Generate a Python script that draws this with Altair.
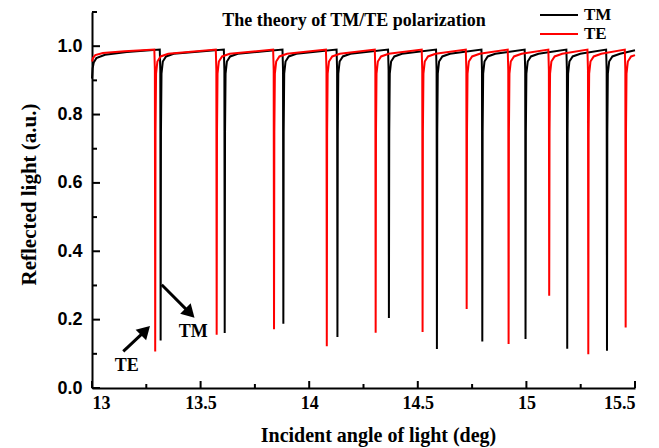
import altair as alt
import pandas as pd

# ---- data ----
te_x = [13.000, 13.005, 13.015, 13.050, 13.150,
        13.287, 13.2895, 13.291, 13.2925, 13.295, 13.301, 13.316, 13.351,
        13.570, 13.5725, 13.574, 13.5755, 13.578, 13.584, 13.599, 13.634,
        13.834, 13.8365, 13.838, 13.8395, 13.842, 13.848, 13.863, 13.898,
        14.077, 14.0795, 14.081, 14.0825, 14.085, 14.091, 14.106, 14.141,
        14.302, 14.3045, 14.306, 14.3075, 14.310, 14.316, 14.331, 14.366,
        14.518, 14.5205, 14.522, 14.5235, 14.526, 14.532, 14.547, 14.582,
        14.721, 14.7235, 14.725, 14.7265, 14.729, 14.735, 14.750, 14.785,
        14.914, 14.9165, 14.918, 14.9195, 14.922, 14.928, 14.943, 14.978,
        15.101, 15.1035, 15.105, 15.1065, 15.109, 15.115, 15.130, 15.165,
        15.281, 15.2835, 15.285, 15.2865, 15.289, 15.295, 15.310, 15.345,
        15.453, 15.4555, 15.457, 15.4585, 15.461, 15.467, 15.482, 15.500]
te_y = [0.955, 0.966, 0.974, 0.980, 0.985,
        0.990, 0.930, 0.107, 0.750, 0.920, 0.955, 0.970, 0.978,
        0.990, 0.930, 0.156, 0.750, 0.920, 0.955, 0.970, 0.978,
        0.990, 0.930, 0.172, 0.750, 0.920, 0.955, 0.970, 0.978,
        0.990, 0.930, 0.122, 0.750, 0.920, 0.955, 0.970, 0.978,
        0.990, 0.930, 0.162, 0.750, 0.920, 0.955, 0.970, 0.978,
        0.990, 0.930, 0.164, 0.750, 0.920, 0.955, 0.970, 0.978,
        0.990, 0.930, 0.231, 0.750, 0.920, 0.955, 0.970, 0.978,
        0.990, 0.930, 0.129, 0.750, 0.920, 0.955, 0.970, 0.978,
        0.990, 0.930, 0.270, 0.750, 0.920, 0.955, 0.970, 0.978,
        0.990, 0.930, 0.099, 0.750, 0.920, 0.955, 0.970, 0.978,
        0.990, 0.930, 0.177, 0.750, 0.920, 0.955, 0.970, 0.974]

tm_x = [13.000, 13.003, 13.008, 13.020, 13.060, 13.160,
        13.312, 13.3145, 13.316, 13.3175, 13.320, 13.326, 13.341, 13.376,
        13.607, 13.6095, 13.611, 13.6125, 13.615, 13.621, 13.636, 13.671,
        13.877, 13.8795, 13.881, 13.8825, 13.885, 13.891, 13.906, 13.941,
        14.126, 14.1285, 14.130, 14.1315, 14.134, 14.140, 14.155, 14.190,
        14.363, 14.3655, 14.367, 14.3685, 14.371, 14.377, 14.392, 14.427,
        14.584, 14.5865, 14.588, 14.5895, 14.592, 14.598, 14.613, 14.648,
        14.793, 14.7955, 14.797, 14.7985, 14.801, 14.807, 14.822, 14.857,
        14.992, 14.9945, 14.996, 14.9975, 15.000, 15.006, 15.021, 15.056,
        15.184, 15.1865, 15.188, 15.1895, 15.192, 15.198, 15.213, 15.248,
        15.367, 15.3695, 15.371, 15.3725, 15.375, 15.381, 15.396, 15.431,
        15.500]
tm_y = [0.905, 0.935, 0.952, 0.965, 0.975, 0.983,
        0.990, 0.930, 0.139, 0.750, 0.920, 0.955, 0.970, 0.978,
        0.990, 0.930, 0.161, 0.750, 0.920, 0.955, 0.970, 0.978,
        0.990, 0.930, 0.188, 0.750, 0.920, 0.955, 0.970, 0.978,
        0.990, 0.930, 0.149, 0.750, 0.920, 0.955, 0.970, 0.978,
        0.990, 0.930, 0.205, 0.750, 0.920, 0.955, 0.970, 0.978,
        0.990, 0.930, 0.114, 0.750, 0.920, 0.955, 0.970, 0.978,
        0.990, 0.930, 0.136, 0.750, 0.920, 0.955, 0.970, 0.978,
        0.990, 0.930, 0.143, 0.750, 0.920, 0.955, 0.970, 0.978,
        0.990, 0.930, 0.115, 0.750, 0.920, 0.955, 0.970, 0.978,
        0.990, 0.930, 0.109, 0.750, 0.920, 0.955, 0.970, 0.978,
        0.988]

x_major = [13.0, 13.5, 14.0, 14.5, 15.0, 15.5]
x_minor = [13.25, 13.75, 14.25, 14.75, 15.25]
y_major = [0.0, 0.2, 0.4, 0.6, 0.8, 1.0]
y_minor = [0.1, 0.3, 0.5, 0.7, 0.9, 1.1]

# annotation arrows (start -> head) and labels, in data units
arrow_x = [13.321, 13.144]
arrow_y = [0.302, 0.107]
arrow_x2 = [13.451, 13.246]
arrow_y2 = [0.219, 0.168]
arrow_angle = [135, 45]
ann_text = ["TM", "TE"]
ann_x = [13.466, 13.160]
ann_y = [0.165, 0.063]

W, H = 543, 376
SERIF = "Liberation Serif"
SANS = "Liberation Sans"

xs = alt.Scale(domain=[13, 15.5], nice=False, zero=False)
ys = alt.Scale(domain=[0, 1.1], nice=False, zero=False)

x_axis = alt.Axis(values=x_major, ticks=False, grid=False, domainWidth=2, domainColor="black",
                  labelFont=SERIF, labelFontWeight="bold", labelFontSize=18, labelColor="black",
                  labelPadding=6, labelExpr="datum.value + ''",
                  title="Incident angle of light (deg)", titleFont=SERIF, titleFontWeight="bold",
                  titleFontSize=20, titleColor="black", titleX=286, titleY=53,
                  titleBaseline="alphabetic")
y_axis = alt.Axis(values=y_major, ticks=False, grid=False, domainWidth=2, domainColor="black",
                  labelFont=SANS, labelFontWeight="bold", labelFontSize=18, labelColor="black",
                  labelPadding=10, format=".1f",
                  title="Reflected light (a.u.)", titleFont=SERIF, titleFontWeight="bold",
                  titleFontSize=21, titleColor="black", titleX=-57, titleY=182,
                  titleBaseline="alphabetic")

tm_df = pd.DataFrame({"x": tm_x, "y": tm_y})
te_df = pd.DataFrame({"x": te_x, "y": te_y})

tm_line = alt.Chart(tm_df).mark_line(color="black", strokeWidth=2).encode(
    x=alt.X("x:Q", scale=xs, axis=x_axis), y=alt.Y("y:Q", scale=ys, axis=y_axis))
te_line = alt.Chart(te_df).mark_line(color="#ff0000", strokeWidth=2).encode(
    x=alt.X("x:Q", scale=xs), y=alt.Y("y:Q", scale=ys))

# inward ticks
xmaj = alt.Chart(pd.DataFrame({"x": x_major})).mark_rule(color="black", strokeWidth=2).encode(
    x=alt.X("x:Q", scale=xs), y=alt.value(H), y2=alt.value(H - 7))
xmin = alt.Chart(pd.DataFrame({"x": x_minor})).mark_rule(color="black", strokeWidth=2).encode(
    x=alt.X("x:Q", scale=xs), y=alt.value(H), y2=alt.value(H - 4))
ymaj = alt.Chart(pd.DataFrame({"y": y_major})).mark_rule(color="black", strokeWidth=2).encode(
    y=alt.Y("y:Q", scale=ys), x=alt.value(0), x2=alt.value(8))
ymin = alt.Chart(pd.DataFrame({"y": y_minor})).mark_rule(color="black", strokeWidth=2).encode(
    y=alt.Y("y:Q", scale=ys), x=alt.value(0), x2=alt.value(5))

arr_df = pd.DataFrame({"x": arrow_x, "y": arrow_y, "x2": arrow_x2, "y2": arrow_y2, "a": arrow_angle})
arr_line = alt.Chart(arr_df).mark_rule(color="black", strokeWidth=3).encode(
    x=alt.X("x:Q", scale=xs), y=alt.Y("y:Q", scale=ys), x2="x2:Q", y2="y2:Q")
arr_head = alt.Chart(arr_df).mark_point(shape="triangle-up", filled=True, color="black",
                                        size=220, opacity=1).encode(
    x=alt.X("x2:Q", scale=xs), y=alt.Y("y2:Q", scale=ys), angle=alt.Angle("a:Q", scale=None))
ann = alt.Chart(pd.DataFrame({"x": ann_x, "y": ann_y, "t": ann_text})).mark_text(
    font=SERIF, fontWeight="bold", fontSize=18, color="black").encode(
    x=alt.X("x:Q", scale=xs), y=alt.Y("y:Q", scale=ys), text="t:N")

title = alt.Chart(pd.DataFrame({"t": ["The theory of TM/TE polarization"]})).mark_text(
    font=SERIF, fontWeight="bold", fontSize=18, color="black", baseline="middle").encode(
    x=alt.value(262), y=alt.value(9), text="t:N")

leg_tm = alt.Chart(pd.DataFrame({"t": ["TM"]})).mark_rule(color="black", strokeWidth=2).encode(
    x=alt.value(448), x2=alt.value(486), y=alt.value(3))
leg_te = alt.Chart(pd.DataFrame({"t": ["TE"]})).mark_rule(color="#ff0000", strokeWidth=2).encode(
    x=alt.value(448), x2=alt.value(486), y=alt.value(22))
leg_tm_t = alt.Chart(pd.DataFrame({"t": ["TM"]})).mark_text(
    font=SERIF, fontWeight="bold", fontSize=17, color="black", align="left", baseline="middle").encode(
    x=alt.value(492), y=alt.value(3), text="t:N")
leg_te_t = alt.Chart(pd.DataFrame({"t": ["TE"]})).mark_text(
    font=SERIF, fontWeight="bold", fontSize=17, color="black", align="left", baseline="middle").encode(
    x=alt.value(492), y=alt.value(22), text="t:N")

chart = alt.layer(tm_line, te_line, xmaj, xmin, ymaj, ymin, arr_line, arr_head, ann,
                  title, leg_tm, leg_te, leg_tm_t, leg_te_t).properties(
    width=W, height=H,
    autosize=alt.AutoSizeParams(type="none"),
    padding={"left": 92, "top": 12, "right": 24, "bottom": 60},
    background="white",
).configure_view(stroke=None)

chart.save("out.html", embed_options={"renderer": "svg", "actions": False})
